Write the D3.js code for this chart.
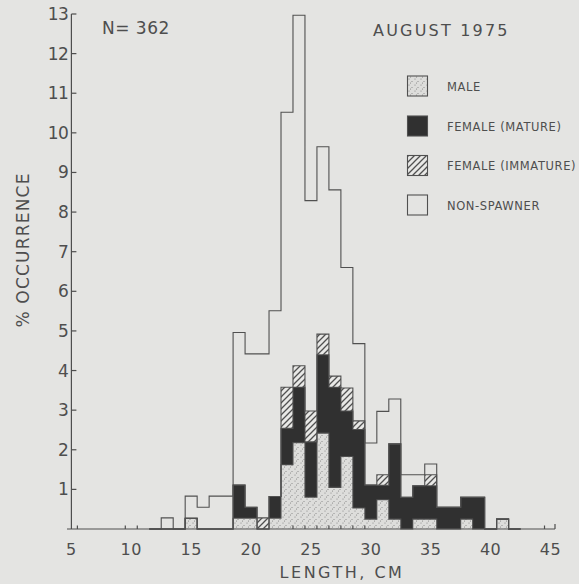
<!DOCTYPE html>
<html><head><meta charset="utf-8">
<script src="https://cdn.jsdelivr.net/npm/d3@7/dist/d3.min.js"></script>
<style>
html,body{margin:0;padding:0;background:#e4e4e2;}
svg{display:block;}
text{font-family:"DejaVu Sans",sans-serif;fill:#4e4e4e;}
</style></head>
<body>
<svg id="chart" width="579" height="584"></svg>
<script>
// ---- data (percent occurrence per 1-cm length class) ----
const lengths        = [12,13,14,15,16,17,18,19,20,21,22,23,24,25,26,27,28,29,30,31,32,33,34,35,36,37,38,39,40,41,42];
const male           = [0,0,0,0.27,0,0,0,0.27,0.27,0,0.27,1.62,2.18,0.80,2.42,1.05,1.83,0.53,0.25,0.74,0.25,0,0.25,0.25,0,0,0.25,0,0,0.25,0];
const femaleMature   = [0,0,0,0,0,0,0,0.84,0.28,0,0.55,0.92,1.40,1.40,1.98,2.53,1.15,1.98,0.86,0.36,1.90,0.80,0.84,0.84,0.55,0.55,0.55,0.80,0,0,0];
const femaleImmature = [0,0,0,0,0,0,0,0,0,0.28,0,1.04,0.54,0.78,0.52,0.28,0.58,0.22,0,0.27,0,0,0,0.28,0,0,0,0,0,0,0];
const nonSpawner     = [0,0.28,0,0.56,0.55,0.83,0.83,3.85,3.87,4.14,4.69,6.94,8.85,5.31,4.73,4.70,3.04,1.95,1.06,1.60,1.13,0.57,0.28,0.27,0,0,0,0,0,0,0];
const xTicks = [5,10,15,20,25,30,35,40,45];
const yTicks = [1,2,3,4,5,6,7,8,9,10,11,12,13];
const minorXTicks = [5.5,9.5,10.5,23.5,24.5,25.5,26.5,27.5,28.5,29.5,44.5];
const seriesKeys = ["male","mature","immature","non"];
const legendLabels = ["MALE","FEMALE (MATURE)","FEMALE (IMMATURE)","NON-SPAWNER"];

const svg = d3.select("#chart");
const BG = "#e4e4e2", INK = "#4e4e4e";

const x = d3.scaleLinear().domain([5,45]).range([71.4,550.5]);
const y = d3.scaleLinear().domain([0,13]).range([529,14]);

// patterns
const defs = svg.append("defs");
const st = defs.append("pattern").attr("id","stipple").attr("patternUnits","userSpaceOnUse").attr("width",6).attr("height",6);
st.append("rect").attr("width",6).attr("height",6).attr("fill","#dddddb");
[[1,1],[4,3.5],[2.5,5]].forEach(p=>st.append("circle").attr("cx",p[0]).attr("cy",p[1]).attr("r",0.55).attr("fill","#808080"));
const ht = defs.append("pattern").attr("id","hatch").attr("patternUnits","userSpaceOnUse").attr("width",6).attr("height",6);
ht.append("rect").attr("width",6).attr("height",6).attr("fill","#e8e8e6");
ht.append("path").attr("d","M-1,1 l2,-2 M0,6 l6,-6 M5,7 l2,-2").attr("stroke","#505050").attr("stroke-width",1.3);

const fills = {male:"url(#stipple)", mature:"#303030", immature:"url(#hatch)", non:BG};

const table = lengths.map((L,i)=>({len:L, male:male[i], mature:femaleMature[i], immature:femaleImmature[i], non:nonSpawner[i]}));
const stacked = d3.stack().keys(seriesKeys)(table);

// fills
const g = svg.append("g");
stacked.forEach(layer=>{
  g.append("g").selectAll("rect").data(layer.filter(d=>d[1]-d[0]>0)).join("rect")
    .attr("x",d=>x(d.data.len-0.5)).attr("width",d=>x(d.data.len+0.5)-x(d.data.len-0.5))
    .attr("y",d=>y(d[1])).attr("height",d=>y(d[0])-y(d[1]))
    .attr("fill",fills[layer.key]).attr("shape-rendering","crispEdges");
});

// step outlines of each cumulative top
const step = d3.line().curve(d3.curveStepAfter).x(p=>x(p[0])).y(p=>y(p[1]));
stacked.forEach(layer=>{
  const pts = layer.map(d=>[d.data.len-0.5, d[1]]);
  const last = layer[layer.length-1];
  pts.push([last.data.len+0.5, last[1]]);
  g.append("path").attr("d",step(pts)).attr("fill","none").attr("stroke","#505050").attr("stroke-width",1.1);
});

// axes
const ax = svg.append("g").attr("stroke",INK).attr("stroke-width",1.2).attr("fill","none");
ax.append("line").attr("x1",67).attr("x2",555).attr("y1",y(0)).attr("y2",y(0));
ax.append("line").attr("x1",555).attr("x2",555).attr("y1",y(0)).attr("y2",y(0)-5);
ax.append("line").attr("x1",x(5)).attr("x2",x(5)).attr("y1",y(0)).attr("y2",y(13));
ax.selectAll(".yt").data(yTicks).join("line").attr("x1",x(5)).attr("x2",x(5)+5).attr("y1",d=>y(d)).attr("y2",d=>y(d));
ax.selectAll(".mx").data(minorXTicks).join("line").attr("class","mx").attr("x1",d=>x(d)).attr("x2",d=>x(d)).attr("y1",y(0)).attr("y2",y(0)-3.5);

svg.append("g").selectAll("text").data(yTicks).join("text")
  .attr("x",x(5)-3).attr("y",d=>y(d)+6).attr("text-anchor","end")
  .attr("font-size",17).attr("letter-spacing",-0.5).text(d=>d);
svg.append("g").selectAll("text").data(xTicks).join("text")
  .attr("x",d=>x(d)).attr("y",555).attr("text-anchor","middle")
  .attr("font-size",16).attr("letter-spacing",0.5).text(d=>d);

svg.append("text").attr("x",342).attr("y",578).attr("text-anchor","middle")
  .attr("font-size",16).attr("letter-spacing",2.5).text("LENGTH, CM");
svg.append("text").attr("transform","translate(29,250) rotate(-90)").attr("text-anchor","middle")
  .attr("font-size",17).attr("letter-spacing",1.2).text("% OCCURRENCE");

svg.append("text").attr("x",102).attr("y",34).attr("font-size",17).attr("letter-spacing",0.5).text("N= 362");
svg.append("text").attr("x",373).attr("y",36).attr("font-size",16).attr("letter-spacing",2.2).text("AUGUST 1975");

// legend
const legTops = [76,116,155.5,195];
const lg = svg.append("g");
seriesKeys.forEach((k,i)=>{
  lg.append("rect").attr("x",407.5).attr("y",legTops[i]).attr("width",20).attr("height",20)
    .attr("fill",fills[k]).attr("stroke","#505050").attr("stroke-width",1.1);
  lg.append("text").attr("x",447).attr("y",legTops[i]+14.5).attr("font-size",11.5)
    .attr("letter-spacing",0.6).text(legendLabels[i]);
});
</script>
</body></html>
